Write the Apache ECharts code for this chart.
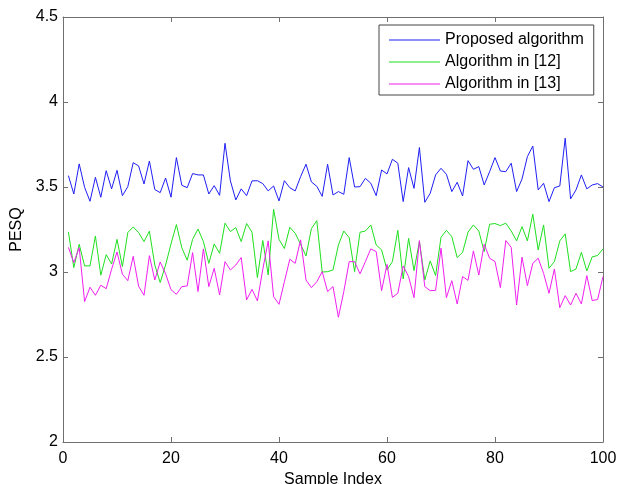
<!DOCTYPE html>
<html>
<head>
<meta charset="utf-8">
<script src="https://cdn.jsdelivr.net/npm/echarts@6/dist/echarts.min.js"></script>
<style>
  html, body { margin: 0; padding: 0; background: #fff; }
  #chart { width: 623px; height: 484px; }
</style>
</head>
<body>
<div id="chart"></div>
<script>
// PESQ per sample (samples 1..100)
const proposed = [
  3.567, 3.459, 3.636, 3.498, 3.416, 3.557, 3.440, 3.596, 3.489, 3.598,
  3.449, 3.502, 3.643, 3.624, 3.518, 3.653, 3.485, 3.467, 3.553, 3.440,
  3.673, 3.510, 3.496, 3.579, 3.571, 3.571, 3.459, 3.508, 3.451, 3.757,
  3.536, 3.424, 3.489, 3.449, 3.536, 3.537, 3.520, 3.477, 3.506, 3.418,
  3.537, 3.496, 3.477, 3.561, 3.634, 3.530, 3.504, 3.445, 3.634, 3.453,
  3.473, 3.457, 3.673, 3.500, 3.502, 3.551, 3.522, 3.449, 3.600, 3.577,
  3.663, 3.640, 3.414, 3.614, 3.492, 3.732, 3.410, 3.463, 3.571, 3.610,
  3.575, 3.473, 3.528, 3.447, 3.655, 3.604, 3.620, 3.512, 3.590, 3.673,
  3.594, 3.590, 3.640, 3.473, 3.547, 3.679, 3.741, 3.483, 3.522, 3.414,
  3.496, 3.506, 3.787, 3.430, 3.483, 3.571, 3.489, 3.512, 3.520, 3.500
];
const algo12 = [
  3.236, 3.026, 3.163, 3.036, 3.036, 3.212, 2.981, 3.102, 3.047, 3.192,
  3.032, 3.232, 3.265, 3.232, 3.179, 3.240, 3.041, 2.938, 3.041, 3.165,
  3.279, 3.143, 3.069, 3.192, 3.253, 3.179, 3.051, 3.165, 3.110, 3.287,
  3.238, 3.261, 3.179, 3.285, 3.234, 2.967, 3.185, 2.983, 3.369, 3.192,
  3.138, 3.263, 3.228, 3.163, 3.094, 3.255, 3.302, 3.000, 3.002, 3.012,
  3.159, 3.241, 3.202, 3.002, 3.234, 3.241, 3.277, 3.159, 3.130, 3.012,
  3.061, 3.245, 2.959, 3.198, 3.008, 3.179, 2.953, 3.065, 2.979, 3.204,
  3.245, 3.208, 3.085, 3.116, 3.234, 3.277, 3.241, 3.120, 3.281, 3.285,
  3.273, 3.287, 3.241, 3.183, 3.267, 3.183, 3.340, 3.130, 3.277, 3.022,
  3.061, 3.183, 3.224, 3.002, 3.018, 3.116, 3.006, 3.089, 3.097, 3.136
];
const algo13 = [
  3.145, 3.055, 3.143, 2.826, 2.910, 2.863, 2.922, 2.902, 3.016, 3.118,
  2.987, 2.949, 3.092, 2.916, 2.863, 3.096, 2.953, 3.059, 2.989, 2.896,
  2.869, 2.914, 2.918, 3.114, 2.885, 3.136, 2.914, 3.022, 2.865, 3.061,
  3.012, 3.041, 3.085, 2.836, 2.898, 2.830, 3.016, 3.183, 2.855, 2.810,
  2.943, 3.075, 3.051, 3.189, 2.953, 2.908, 2.943, 3.002, 2.885, 2.914,
  2.734, 2.885, 3.061, 3.061, 2.989, 3.061, 3.136, 3.120, 2.890, 3.045,
  2.851, 2.875, 3.036, 2.973, 2.849, 3.185, 2.914, 2.890, 2.892, 3.140,
  2.849, 2.949, 2.812, 2.973, 2.951, 3.124, 2.982, 3.163, 3.081, 3.061,
  2.908, 3.185, 3.145, 2.806, 3.087, 2.920, 3.051, 3.081, 2.992, 2.875,
  3.018, 2.790, 2.861, 2.806, 2.875, 2.812, 2.979, 2.832, 2.838, 2.973
];
const seriesNames = ['Proposed algorithm', 'Algorithm in [12]', 'Algorithm in [13]'];
const seriesColors = ['#1f1ff5', '#1fe01f', '#f01ff0'];

const font = 'Liberation Sans, Arial, sans-serif';
const axisGray = '#707070';

const chart = echarts.init(document.getElementById('chart'));

// pair each value with its sample index (1-based)
const toPoints = (arr) => arr.map((v, i) => [i + 1, v]);

const baseAxis = {
  axisLine: { show: true, onZero: false, lineStyle: { color: axisGray, width: 1 } },
  axisTick: { show: true, inside: true, length: 5, lineStyle: { color: axisGray } },
  splitLine: { show: false }
};

const option = {
  animation: false,
  backgroundColor: '#fff',
  textStyle: { fontFamily: font },
  grid: { left: 63, right: 20, top: 17, bottom: 42, containLabel: false, outerBoundsMode: 'none' },
  legend: {
    data: seriesNames,
    orient: 'vertical',
    left: 379,
    top: 25,
    icon: 'rect',
    itemWidth: 51,
    itemHeight: 1,
    itemGap: 6,
    padding: [7, 10, 3, 10],
    borderColor: '#444',
    borderWidth: 1,
    backgroundColor: '#fff',
    textStyle: { fontFamily: font, fontSize: 16, color: '#000', lineHeight: 16 }
  },
  xAxis: [
    Object.assign({}, baseAxis, {
      type: 'value', min: 0, max: 100, interval: 20,
      name: 'Sample Index', nameLocation: 'middle', nameGap: 28,
      nameTextStyle: { fontFamily: font, fontSize: 16, color: '#000' },
      axisLabel: { fontFamily: font, fontSize: 16, color: '#000', margin: 9 }
    }),
    Object.assign({}, baseAxis, {
      type: 'value', min: 0, max: 100, interval: 20, position: 'top',
      axisLabel: { show: false }
    })
  ],
  yAxis: [
    Object.assign({}, baseAxis, {
      type: 'value', min: 2, max: 4.5, interval: 0.5,
      name: 'PESQ', nameLocation: 'middle', nameGap: 35, nameRotate: 90,
      nameTextStyle: { fontFamily: font, fontSize: 16, color: '#000' },
      axisLabel: { fontFamily: font, fontSize: 16, color: '#000', margin: 5 }
    }),
    Object.assign({}, baseAxis, {
      type: 'value', min: 2, max: 4.5, interval: 0.5, position: 'right',
      axisLabel: { show: false }
    })
  ],
  series: [proposed, algo12, algo13].map((arr, k) => ({
    name: seriesNames[k],
    type: 'line',
    data: toPoints(arr),
    symbol: 'none',
    color: seriesColors[k],
    lineStyle: { width: 1, color: seriesColors[k] }
  }))
};

chart.setOption(option);
</script>
</body>
</html>
